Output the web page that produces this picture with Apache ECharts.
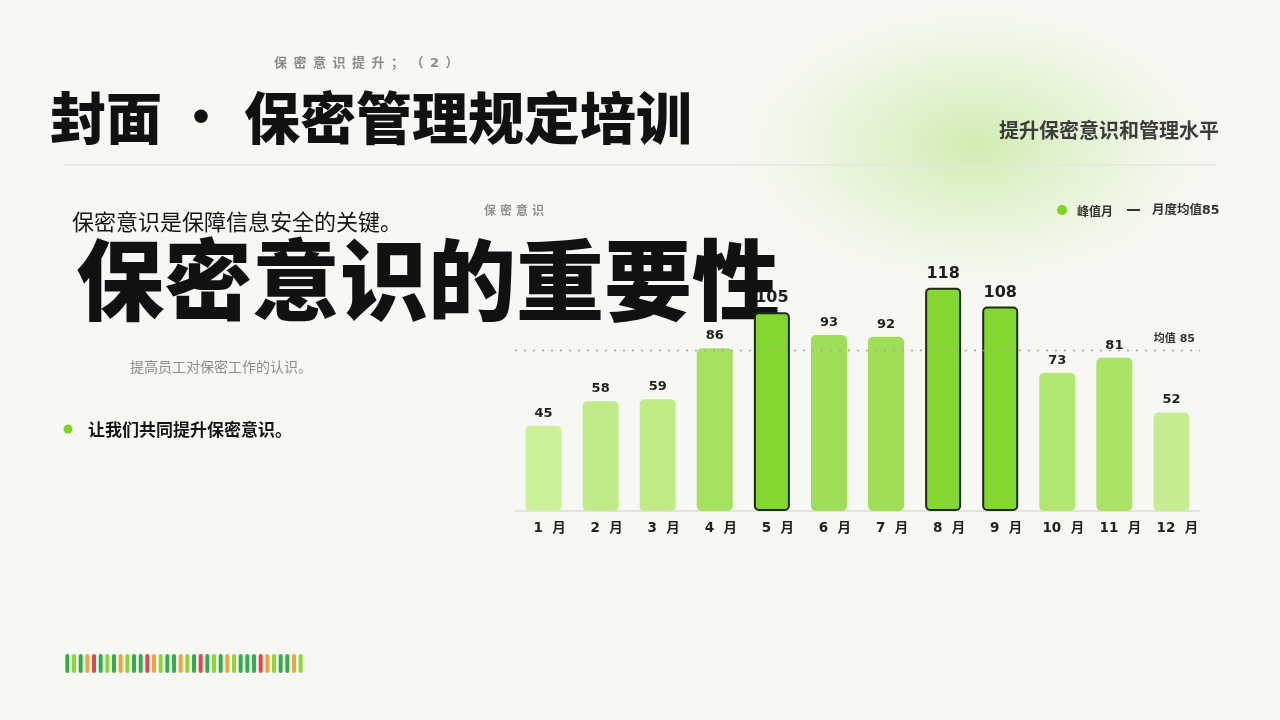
<!DOCTYPE html>
<html>
<head>
<meta charset="utf-8">
<title>保密管理规定培训</title>
<script src="https://cdn.jsdelivr.net/npm/echarts@6/dist/echarts.min.js"></script>
<style>
html, body { margin: 0; padding: 0; background: #f7f8f4; }
#panel { width: 1280px; height: 720px; }
</style>
</head>
<body>
<div id="panel"></div>
<script>
var months = ['1 月', '2 月', '3 月', '4 月', '5 月', '6 月', '7 月', '8 月', '9 月', '10 月', '11 月', '12 月'];
var values = [45, 58, 59, 86, 105, 93, 92, 118, 108, 73, 81, 52];
var peakIdx = [4, 7, 8];
var meanValue = 85;
// 左下角装饰色条
var stripKeys = ['g', 'l', 'g', 'o', 'r', 'g', 'l', 'g', 'o', 'l', 'g', 'g', 'r', 'o', 'l', 'g', 'g', 'o',
                 'l', 'g', 'r', 'g', 'l', 'g', 'o', 'l', 'g', 'g', 'g', 'r', 'o', 'l', 'g', 'g', 'o', 'l'];
var stripPalette = { g: '#2fae4a', l: '#8fd62e', o: '#f0a53c', r: '#e0474a' };

var CJK = '"Noto Sans CJK SC", "Noto Sans", sans-serif';
var NUM = '"DejaVu Sans", "Noto Sans CJK SC", sans-serif';

function mix(a, b, t)
{
    var ca = [parseInt(a.substr(1, 2), 16), parseInt(a.substr(3, 2), 16), parseInt(a.substr(5, 2), 16)];
    var cb = [parseInt(b.substr(1, 2), 16), parseInt(b.substr(3, 2), 16), parseInt(b.substr(5, 2), 16)];
    var out = '#';
    for (var i = 0; i < 3; i++) {
        var v = Math.round(ca[i] + (cb[i] - ca[i]) * t);
        out += (v < 16 ? '0' : '') + v.toString(16);
    }
    return out;
}

function barData()
{
    return values.map(function (v, i) {
        if (peakIdx.indexOf(i) >= 0) {
            return {
                value: v,
                itemStyle: { color: '#84d630', borderColor: '#1d2b12', borderWidth: 2, borderRadius: 4 },
                label: { fontSize: 16 }
            };
        }
        var t = Math.max(0, Math.min(1, (v - 45) / (93 - 45)));
        return { value: v, itemStyle: { color: mix('#cdf09b', '#9fde56', t) } };
    });
}

function spaced(s, gap)
{
    return s.split('').join(gap);
}

var myChart;
window.onload = function ()
{
    myChart = echarts.init(document.getElementById('panel'));
    myChart.setOption({
        backgroundColor: '#f7f8f4',
        animation: false,
        graphic: [
            {
                type: 'circle', shape: { cx: 975, cy: 145, r: 275 },
                scaleY: 0.6, originX: 975, originY: 145, silent: true,
                style: {
                    fill: new echarts.graphic.RadialGradient(0.5, 0.5, 0.5, [
                        { offset: 0, color: 'rgba(186,228,134,0.62)' },
                        { offset: 0.5, color: 'rgba(205,236,170,0.34)' },
                        { offset: 1, color: 'rgba(247,248,244,0)' }
                    ])
                }
            },
            { type: 'text', left: 274, top: 57, style: { text: spaced('保密意识提升；（2）', '\u2002'), font: 'bold 13px ' + NUM, fill: '#8a8a8a' } },
            { type: 'text', x: 50, y: 118, style: { text: '封面', font: '900 56px ' + CJK, fill: '#111', verticalAlign: 'middle' } },
            { type: 'text', x: 177, y: 116, style: { text: '·', font: '900 48px ' + CJK, fill: '#111', verticalAlign: 'middle' } },
            { type: 'text', x: 244, y: 118, style: { text: '保密管理规定培训', font: '900 56px ' + CJK, fill: '#111', verticalAlign: 'middle' } },
            { type: 'text', x: 1219, y: 130, style: { text: '提升保密意识和管理水平', font: 'bold 20px ' + CJK, fill: '#3c3c3c', align: 'right', verticalAlign: 'middle' } },
            { type: 'line', shape: { x1: 64, y1: 165, x2: 1216, y2: 165 }, style: { stroke: '#e3e6df', lineWidth: 1.5 } },
            { type: 'text', x: 72, y: 222, style: { text: '保密意识是保障信息安全的关键。', font: '22px ' + CJK, fill: '#151515', verticalAlign: 'middle' } },
            { type: 'text', x: 76, y: 280, style: { text: '保密意识的重要性', font: '900 88px ' + CJK, fill: '#111', verticalAlign: 'middle' } },
            { type: 'text', x: 130, y: 367, style: { text: '提高员工对保密工作的认识。', font: '14px ' + CJK, fill: '#8c8c8c', verticalAlign: 'middle' } },
            { type: 'circle', shape: { cx: 68, cy: 429, r: 4.5 }, style: { fill: '#7ed321' } },
            { type: 'text', x: 88, y: 430, style: { text: '让我们共同提升保密意识。', font: 'bold 17px ' + CJK, fill: '#151515', verticalAlign: 'middle' } },
            { type: 'text', x: 484, y: 210, style: { text: spaced('保密意识', '\u2004'), font: 'bold 12px ' + CJK, fill: '#909090', verticalAlign: 'middle' } },
            { type: 'circle', shape: { cx: 1062, cy: 210, r: 5 }, style: { fill: '#7ed321' } },
            { type: 'text', x: 1077, y: 211, style: { text: '峰值月', font: 'bold 12px ' + CJK, fill: '#333', verticalAlign: 'middle' } },
            { type: 'line', shape: { x1: 1127, y1: 210, x2: 1140, y2: 210 }, style: { stroke: '#333', lineWidth: 2 } },
            { type: 'text', x: 1152, y: 211, style: { text: '月度均值85', font: 'bold 12.5px ' + NUM, fill: '#333', verticalAlign: 'middle' } }
        ],
        grid: [
            { left: 515, right: 80, top: 246, bottom: 209 },
            { left: 64, width: 240, top: 654, height: 19 }
        ],
        xAxis: [
            {
                type: 'category', gridIndex: 0, data: months,
                axisLine: { lineStyle: { color: '#dcdcd8', width: 1.5 } },
                axisTick: { show: false },
                axisLabel: {
                    margin: 11, fontSize: 13.5, fontWeight: 'bold', color: '#222', fontFamily: NUM,
                    padding: [0, 0, 0, 12],
                    formatter: function (v) { return v.replace(' ', '  '); }
                }
            },
            { type: 'category', gridIndex: 1, data: stripKeys.map(function (k, i) { return i; }), show: false }
        ],
        yAxis: [
            { type: 'value', gridIndex: 0, min: 0, max: 140, show: false, splitLine: { show: false } },
            { type: 'value', gridIndex: 1, min: 0, max: 1, show: false, splitLine: { show: false } }
        ],
        series: [
            {
                name: '峰值月',
                type: 'bar',
                xAxisIndex: 0, yAxisIndex: 0,
                barWidth: 36,
                data: barData(),
                itemStyle: { borderRadius: 5 },
                label: {
                    show: true, position: 'top', distance: 6,
                    fontSize: 13, fontWeight: 'bold', color: '#1e1e1e', fontFamily: NUM
                },
                markLine: {
                    silent: true, symbol: 'none',
                    lineStyle: { color: '#a3a3a3', type: [2, 7], width: 1.3 },
                    label: { position: 'insideEndTop', formatter: '均值 ' + meanValue, fontSize: 11, fontWeight: 'bold', color: '#333', fontFamily: NUM },
                    data: [{ yAxis: meanValue }]
                }
            },
            {
                type: 'bar',
                xAxisIndex: 1, yAxisIndex: 1,
                barWidth: 4,
                silent: true,
                data: stripKeys.map(function (k) {
                    return { value: 1, itemStyle: { color: stripPalette[k], borderRadius: 2 } };
                })
            }
        ]
    });
};
</script>
</body>
</html>
